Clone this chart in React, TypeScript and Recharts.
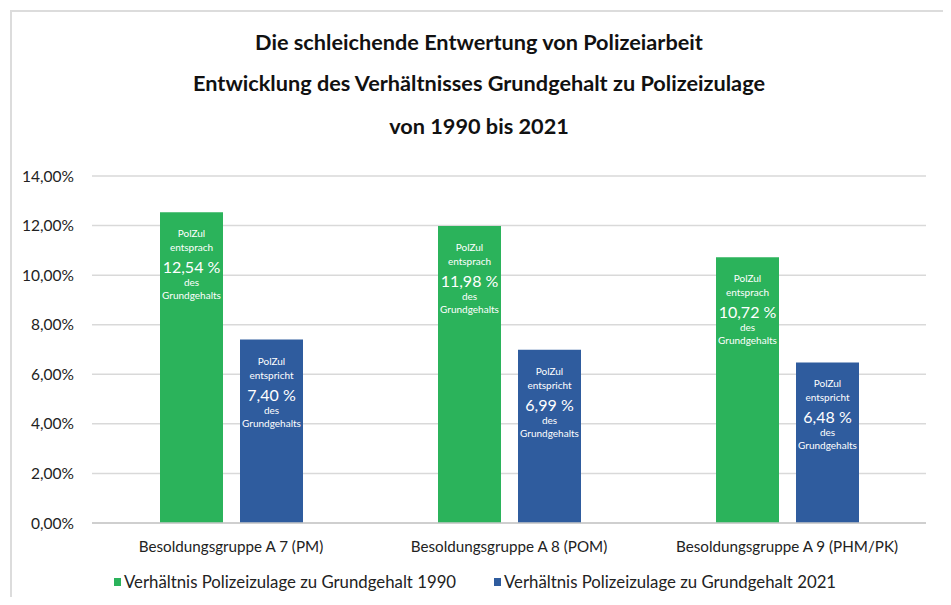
import React from "react";
import { BarChart, Bar, XAxis, YAxis, CartesianGrid, Legend, LabelList } from "recharts";

const categories = ["Besoldungsgruppe A 7 (PM)", "Besoldungsgruppe A 8 (POM)", "Besoldungsgruppe A 9 (PHM/PK)"];
const values1990 = [12.54, 11.98, 10.72];
const values2021 = [7.4, 6.99, 6.48];
const seriesNames = ["Verhältnis Polizeizulage zu Grundgehalt 1990", "Verhältnis Polizeizulage zu Grundgehalt 2021"];
const yTicks = [0, 2, 4, 6, 8, 10, 12, 14];
const titleLines = [
  "Die schleichende Entwertung von Polizeiarbeit",
  "Entwicklung des Verhältnisses Grundgehalt zu Polizeizulage",
  "von 1990 bis 2021",
];
const verb1990 = "entsprach";
const verb2021 = "entspricht";

const GREEN = "#2bb35b";
const BLUE = "#2f5c9e";
const FONT = "Lato, 'Open Sans', sans-serif";

const data = categories.map((c, i) => ({ name: c, v1990: values1990[i], v2021: values2021[i] }));

const fmt = (v: number) => v.toFixed(2).replace(".", ",");

const makeLabel = (verb: string) => (props: any) => {
  const { x, y, width, value } = props;
  const cx = x + width / 2;
  return (
    <g fill="#ffffff" fontFamily={FONT} textAnchor="middle">
      <text x={cx} y={y + 25} fontSize={10}>PolZul</text>
      <text x={cx} y={y + 39} fontSize={10}>{verb}</text>
      <text x={cx} y={y + 61} fontSize={16}>{fmt(value)} %</text>
      <text x={cx} y={y + 74} fontSize={10}>des</text>
      <text x={cx} y={y + 87} fontSize={10}>Grundgehalts</text>
    </g>
  );
};

const renderLegend = () => (
  <div style={{ position: "relative", height: 22, fontFamily: FONT, fontSize: 16.8, color: "#222" }}>
    {seriesNames.map((n, i) => (
      <div key={n} style={{ position: "absolute", left: i === 0 ? 106 : 486, top: 0, display: "flex", alignItems: "center", whiteSpace: "nowrap" }}>
        <span style={{ display: "inline-block", width: 7, height: 8, background: i === 0 ? GREEN : BLUE, marginRight: 3 }} />
        <span>{n}</span>
      </div>
    ))}
  </div>
);

export default function App() {
  return (
    <div style={{ position: "relative", width: 943, height: 597, background: "#fff", marginLeft: -8, marginTop: -8 }}>
      <div style={{ position: "absolute", left: 10, top: 10, width: 936, height: 600, border: "2px solid #dcdcdc", boxSizing: "border-box" }} />
      {titleLines.map((t, i) => (
        <div key={t} style={{ position: "absolute", left: 0, width: 958, top: [29, 70, 113][i], textAlign: "center", fontFamily: FONT, fontWeight: 700, fontSize: 21.7, color: "#111" }}>
          {t}
        </div>
      ))}
      <div style={{ position: "absolute", left: 8, top: 8 }}>
        <BarChart width={940} height={597} data={data} margin={{ top: 168, right: 22, bottom: 0, left: 0 }} barGap={17} barCategoryGap={68}>
          <CartesianGrid vertical={false} stroke="#d9d9d9" strokeWidth={1.5} />
          <XAxis
            dataKey="name"
            tickLine={false}
            axisLine={{ stroke: "#c8c8c8", strokeWidth: 1.5 }}
            tick={{ fontFamily: FONT, fontSize: 15.2, fill: "#222" }}
            tickMargin={12}
            height={40}
          />
          <YAxis
            domain={[0, 14]}
            ticks={yTicks}
            tickFormatter={(v: number) => fmt(v) + "%"}
            tickLine={false}
            axisLine={false}
            width={84}
            tickMargin={12}
            tick={{ fontFamily: FONT, fontSize: 15.5, fill: "#222" }}
          />
          <Legend verticalAlign="bottom" height={42} content={renderLegend} wrapperStyle={{ left: 0, top: 563, bottom: "auto" }} />
          <Bar dataKey="v1990" name={seriesNames[0]} fill={GREEN} isAnimationActive={false}>
            <LabelList dataKey="v1990" content={makeLabel(verb1990)} />
          </Bar>
          <Bar dataKey="v2021" name={seriesNames[1]} fill={BLUE} isAnimationActive={false}>
            <LabelList dataKey="v2021" content={makeLabel(verb2021)} />
          </Bar>
        </BarChart>
      </div>
    </div>
  );
}
